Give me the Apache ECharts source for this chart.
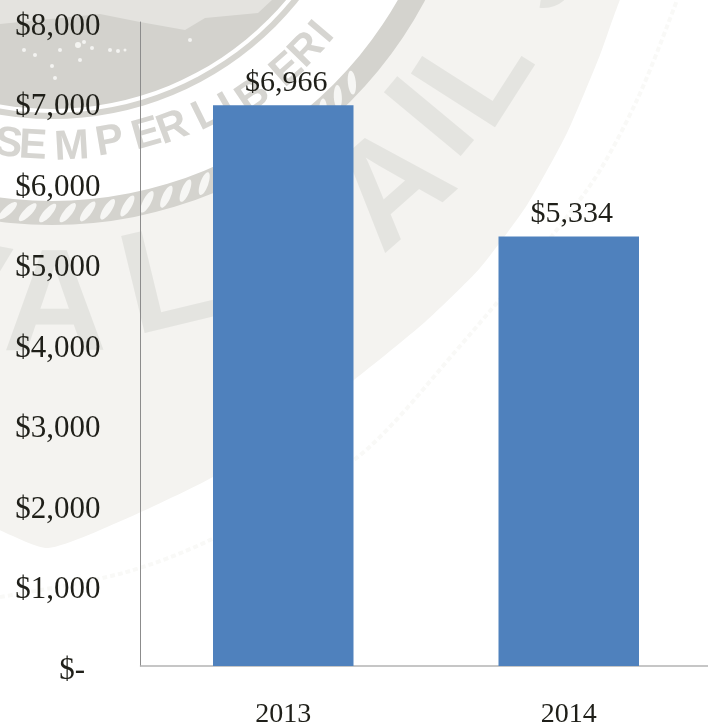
<!DOCTYPE html>
<html>
<head>
<meta charset="utf-8">
<style>html,body{margin:0;padding:0;background:#fff}#c{width:708px;height:728px}</style>
<script src="https://cdn.jsdelivr.net/npm/echarts@6/dist/echarts.min.js"></script>
</head>
<body>
<div id="c"></div>
<script>
const categories = ['2013', '2014'];
const values = [6966, 5334];
const yTicks = [0, 1000, 2000, 3000, 4000, 5000, 6000, 7000, 8000];
const yTickLabels = ['$-', '$1,000', '$2,000', '$3,000', '$4,000', '$5,000', '$6,000', '$7,000', '$8,000'];
const dataLabels = ['$6,966', '$5,334'];

// decorative watermark seal (background picture, not data)
const sealC = [52, -197];
const shield = [[-30,520],[-10,526],[48,548],[130,517],[213,477],[290,428],[354,380],[425,322],[480,268],[527,205],[567,133],[600,55],[622,-5],[640,-30],[-30,-30]];
const faintEdge = [[0,597],[123,573],[210,540],[354,460],[454,353],[587,190],[637,100],[677,0]];
const smallLetters = [['S',-7.3,344],['E',-3.2,344],['M',3.3,345],['P',9.7,344],['E',15.9,345],['R',20.4,347],['L',26.4,348],['I',30,352],['B',34.4,356],['E',41.4,356],['R',45.9,355],['I',49.7,355]];
const bigLetters = [['V',-11,505],['A',0.3,507],['L',13.6,497],['A',41.5,518],['I',50.3,500],['L',57.4,508],['S',72,513]];
const hills = [[0,0],[272,0],[258,13],[205,18],[185,30],[140,22],[100,14],[60,18],[0,24]];
const specks = [[78,45,3],[84,42,2],[92,48,2],[110,50,2],[118,51,2],[125,50,1.5],[80,60,2],[52,66,2],[55,78,2],[24,50,2],[35,55,2],[190,40,2],[60,50,2]];

function bgText(ch, th, r, size, color, weight) {
  const t = th * Math.PI / 180;
  return { type:'text', z:-10, silent:true, x: sealC[0] + r*Math.sin(t), y: sealC[1] + r*Math.cos(t), rotation:t,
    style:{ text:ch, fill:color, font: weight+' '+size+'px "Liberation Sans"', align:'center', verticalAlign:'middle' } };
}
const bg = [];
bg.push({ type:'polyline', z:-21, silent:true, shape:{ points:faintEdge, smooth:0.3 }, style:{ stroke:'#f9f9f7', lineWidth:4, lineDash:[5,3], fill:null } });
bg.push({ type:'polygon', z:-20, silent:true, shape:{ points:shield, smooth:0.2 }, style:{ fill:'#f4f3f0' } });
bg.push({ type:'circle', z:-19, silent:true, shape:{ cx:sealC[0], cy:sealC[1], r:410 }, style:{ fill:'#fff' } });
bg.push({ type:'ring', z:-18, silent:true, shape:{ cx:sealC[0], cy:sealC[1], r:422, r0:398 }, style:{ fill:'#d4d3ce' } });
for (let a = -9; a < 48; a += 2.8) {
  const t = a*Math.PI/180;
  bg.push({ type:'ellipse', z:-17, silent:true, x:sealC[0]+410*Math.sin(t), y:sealC[1]+410*Math.cos(t), rotation:t+0.85,
    shape:{ cx:0, cy:0, rx:12, ry:4 }, style:{ fill:'#f6f6f4' } });
}
bg.push({ type:'circle', z:-16, silent:true, shape:{ cx:sealC[0], cy:sealC[1], r:316 }, style:{ fill:'#d6d5d0' } });
bg.push({ type:'circle', z:-15, silent:true, shape:{ cx:sealC[0], cy:sealC[1], r:310 }, style:{ fill:'#fff' } });
bg.push({ type:'circle', z:-14, silent:true, shape:{ cx:sealC[0], cy:sealC[1], r:306 }, style:{ fill:'#d3d2cd' } });
bg.push({ type:'polygon', z:-13, silent:true, shape:{ points:hills }, style:{ fill:'#e4e3df' } });
specks.forEach(s => bg.push({ type:'circle', z:-12, silent:true, shape:{ cx:s[0], cy:s[1], r:s[2] }, style:{ fill:'#f4f4f1' } }));
smallLetters.forEach(l => bg.push(bgText(l[0], l[1], l[2], 42, '#d6d5d1', 'bold')));
bigLetters.forEach(l => bg.push(bgText(l[0], l[1], l[2], 145, '#e4e4e0', 'bold')));

const font = '"Liberation Serif"';
const ink = '#1f1f19';
const chart = echarts.init(document.getElementById('c'), null, { renderer:'canvas' });
chart.setOption({
  animation:false,
  backgroundColor:'#fff',
  graphic:{ elements:bg },
  grid:{ left:140.5, top:22, width:571, height:644, containLabel:false, outerBoundsMode:'none' },
  xAxis:{ type:'category', data:categories,
    axisLine:{ lineStyle:{ color:'#b4b4b4', width:1.5 } }, axisTick:{ show:false },
    axisLabel:{ fontFamily:font, fontSize:28, color:ink, margin:35 } },
  yAxis:{ type:'value', min:0, max:8000, interval:1000,
    axisLine:{ show:true, lineStyle:{ color:'#8c8c8c', width:1 } }, axisTick:{ show:false }, splitLine:{ show:false },
    axisLabel:{ margin:40, color:ink,
      rich:{ t:{ fontFamily:font, fontSize:31, color:ink, padding:[9,0,0,0] } },
      formatter:(v)=>{ const s = yTickLabels[yTicks.indexOf(v)]; return '{t|' + (v===0 ? s+'\u00a0\u00a0' : s) + '}'; } } },
  series:[{ type:'bar', data:values, barWidth:140.5, itemStyle:{ color:'#4f81bd' },
    label:{ show:true, position:'top', distance:7, offset:[3,0], fontFamily:font, fontSize:30, color:ink,
      formatter:(p)=>dataLabels[p.dataIndex] } }]
});
</script>
</body>
</html>
